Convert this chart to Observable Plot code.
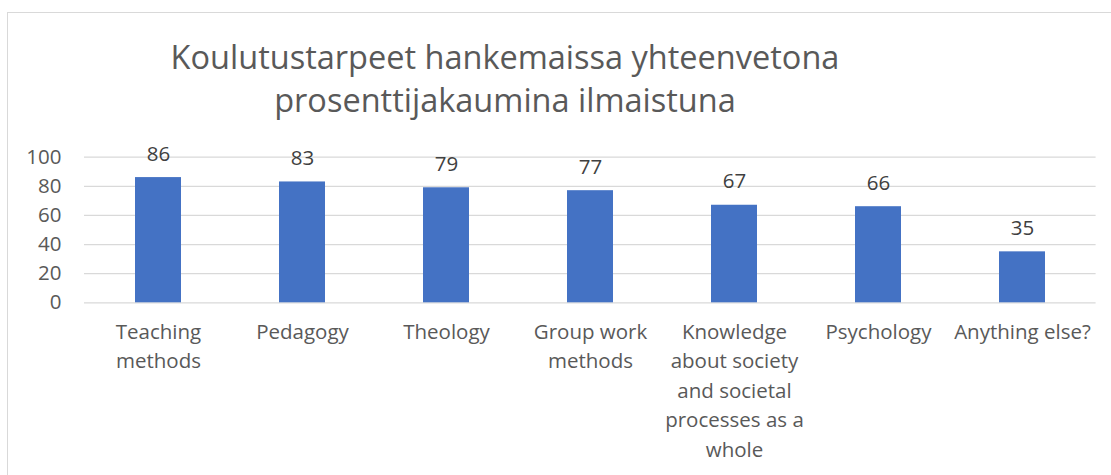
<!DOCTYPE html>
<html>
<head>
<meta charset="utf-8">
<script src="https://cdn.jsdelivr.net/npm/d3@7"></script>
<script src="https://cdn.jsdelivr.net/npm/@observablehq/plot@0.6"></script>
<style>
  html, body { margin: 0; padding: 0; background: #fff; }
  #wrap { position: relative; width: 1111px; height: 475px; overflow: hidden; font-family: "Open Sans", Lato, sans-serif; }
  #frame { position: absolute; left: 7px; top: 12px; width: 1200px; height: 600px; border: 1px solid #d9d9d9; box-sizing: border-box; pointer-events: none; }
  #title { position: relative; height: 130px; box-sizing: border-box; padding-top: 35px; width: 1010px; text-align: center; color: #595959; font-size: 32.5px; line-height: 43px; font-weight: 400; }
  #chart svg { display: block; }
</style>
</head>
<body>
<div id="wrap">
  <div id="frame"></div>
  <div id="title">Koulutustarpeet hankemaissa yhteenvetona<br>prosenttijakaumina ilmaistuna</div>
  <div id="chart"></div>
</div>
<script>
const categories = ["Teaching methods", "Pedagogy", "Theology", "Group work methods", "Knowledge about society and societal processes as a whole", "Psychology", "Anything else?"];
const tickLabels = ["Teaching\nmethods", "Pedagogy", "Theology", "Group work\nmethods", "Knowledge\nabout society\nand societal\nprocesses as a\nwhole", "Psychology", "Anything else?"];
const values = [86, 83, 79, 77, 67, 66, 35];
const yTicks = [0, 20, 40, 60, 80, 100];

const data = categories.map((c, i) => ({category: c, value: values[i]}));
const labelOf = new Map(categories.map((c, i) => [c, tickLabels[i]]));

const chart = Plot.plot({
  width: 1111,
  height: 345,
  marginTop: 26.7,
  marginBottom: 172.7,
  marginLeft: 84,
  marginRight: 15.4,
  style: {fontFamily: "'Open Sans', Lato, sans-serif", background: "transparent", overflow: "visible"},
  x: {domain: categories, paddingInner: 0.684, paddingOuter: 0.342, label: null},
  y: {domain: [0, 100], label: null},
  marks: [
    Plot.ruleY(yTicks, {stroke: "#d9d9d9", strokeWidth: 1.3}),
    Plot.barY(data, {x: "category", y: "value", fill: "#4472c4"}),
    Plot.text(data, {x: "category", y: "value", text: d => String(d.value), dy: -17, lineAnchor: "bottom", fontSize: 20.5, fill: "#404040"}),
    Plot.axisY({ticks: yTicks, tickSize: 0, tickPadding: 23, fontSize: 20.5, color: "#595959", label: null}),
    Plot.axisX({tickSize: 0, tickPadding: 15, fontSize: 20.5, color: "#595959", lineHeight: 1.44, tickFormat: d => labelOf.get(d), label: null})
  ]
});
document.getElementById("chart").appendChild(chart);
</script>
</body>
</html>
